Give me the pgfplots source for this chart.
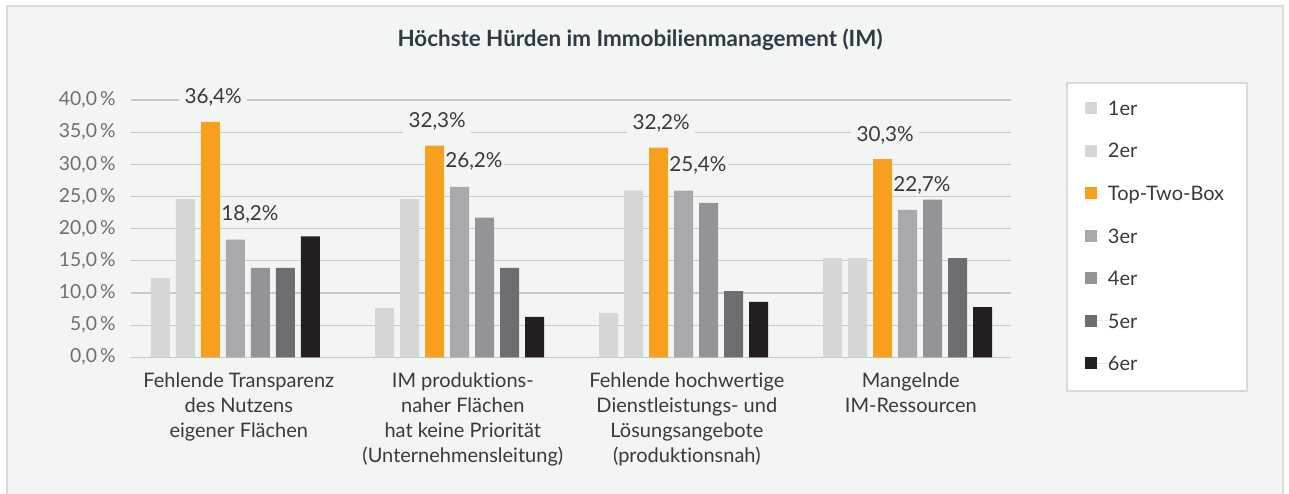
\documentclass[border=0pt]{standalone}
\usepackage{fontspec}
\setmainfont{Lato}[Ligatures={NoCommon}]
\usepackage{pgfplots}
\pgfplotsset{compat=1.18}

\definecolor{bg}{HTML}{F3F4F4}
\definecolor{frame}{HTML}{D9DBDB}
\definecolor{gridc}{HTML}{C8C9CA}
\definecolor{titlec}{HTML}{2E3B46}
\definecolor{tickc}{HTML}{6E6F71}
\definecolor{textc}{HTML}{3A3A3A}
\definecolor{cA}{HTML}{D5D6D8}
\definecolor{cTTB}{HTML}{F7A01E}
\definecolor{cC}{HTML}{A8A9AC}
\definecolor{cD}{HTML}{939497}
\definecolor{cE}{HTML}{6D6E71}
\definecolor{cF}{HTML}{231F20}

\newcommand{\lblfont}{\fontsize{15}{18.75}\selectfont}
\newcommand{\tickfont}{\fontsize{14.5}{17}\selectfont}
\newcommand{\valfont}{\fontsize{15.5}{18}\selectfont}

\begin{document}
\begin{tikzpicture}[x=1pt,y=1pt]
\useasboundingbox (0,0) rectangle (966.75,369.75);
\fill[white] (0,0) rectangle (966.75,369.75);
\filldraw[fill=bg, draw=frame, line width=1.2pt] (5.25,-5) rectangle (962.25,365.25);
\node[font=\bfseries\fontsize{16.8}{19}\selectfont, text=titlec] at (480,339.75)
  {Höchste Hürden im Immobilienmanagement (IM)};
% legend box
\filldraw[fill=white, draw=frame, line width=1pt] (800.25,76.5) rectangle (935.25,307.5);

\begin{axis}[
  at={(98.25pt,101.78pt)}, anchor=south west,
  scale only axis, width=660pt, height=192.98pt,
  xmin=-0.4665, xmax=3.462, ymin=0, ymax=40,
  ybar=4.5pt, bar width=14.25pt,
  axis line style={draw=none},
  major tick length=0pt,
  ymajorgrids, grid style={line width=0.9pt, gridc},
  ytick={0,5,...,40},
  yticklabel={\pgfmathprintnumber[fixed,fixed zerofill,precision=1,use comma,assume math mode=true]{\tick}\,\%},
  y tick label style={font=\tickfont, text=tickc, anchor=east, inner sep=0pt, xshift=-11.25pt},
  xtick={0,1,2,3},
  xticklabels={{Fehlende Transparenz\\des Nutzens\\eigener Flächen},
               {IM produktions-\\naher Flächen\\hat keine Priorität\\(Unternehmensleitung)},
               {Fehlende hochwertige\\Dienstleistungs- und\\Lösungsangebote\\(produktionsnah)},
               {Mangelnde\\IM-Ressourcen}},
  x tick label style={font=\lblfont, text=textc, align=center, anchor=north, inner sep=0pt, yshift=-11.5pt, xshift=2.5pt},
  legend style={at={(axis description cs:1.0841,0.9969)}, anchor=north west,
    draw=none, fill=none, inner sep=0pt, row sep=21.1pt, font=\lblfont, text=textc,
    nodes={inner sep=0pt, text height=10.8pt, text depth=0pt}},
  legend cell align=left,
  legend image code/.code={\fill[#1] (0pt,-4.5pt) rectangle (9pt,4.5pt); \path (0pt,0pt) -- (17pt,0pt);},
]
\addplot[fill=cA, draw=none] coordinates {(0,12.3) (1,7.7) (2,6.9) (3,15.4)};
\addplot[fill=cA, draw=none] coordinates {(0,24.6) (1,24.6) (2,25.9) (3,15.4)};
\addplot[fill=cTTB, draw=none, point meta=explicit,
  nodes near coords={\pgfmathprintnumber[fixed,fixed zerofill,precision=1,use comma,assume math mode=true]{\pgfplotspointmeta}\%},
  every node near coord/.append style={anchor=center, yshift=18pt, xshift=2pt, fill=bg, inner xsep=4pt, inner ysep=1.5pt, font=\valfont, text=textc}]
  coordinates {(0,36.6) [36.4] (1,32.9) [32.3] (2,32.6) [32.2] (3,30.8) [30.3]};
\addplot[fill=cC, draw=none, point meta=explicit,
  nodes near coords={\pgfmathprintnumber[fixed,fixed zerofill,precision=1,use comma,assume math mode=true]{\pgfplotspointmeta}\%},
  every node near coord/.append style={anchor=center, yshift=18.75pt, xshift=10.8pt, fill=bg, inner xsep=0.8pt, inner ysep=1.5pt, font=\valfont, text=textc}]
  coordinates {(0,18.3) [18.2] (1,26.5) [26.2] (2,25.9) [25.4] (3,22.9) [22.7]};
\addplot[fill=cD, draw=none] coordinates {(0,13.9) (1,21.7) (2,24.0) (3,24.5)};
\addplot[fill=cE, draw=none] coordinates {(0,13.9) (1,13.9) (2,10.3) (3,15.4)};
\addplot[fill=cF, draw=none] coordinates {(0,18.8) (1,6.3) (2,8.6) (3,7.8)};
\legend{1er,2er,Top-Two-Box,3er,4er,5er,6er}
\end{axis}
\end{tikzpicture}
\end{document}
